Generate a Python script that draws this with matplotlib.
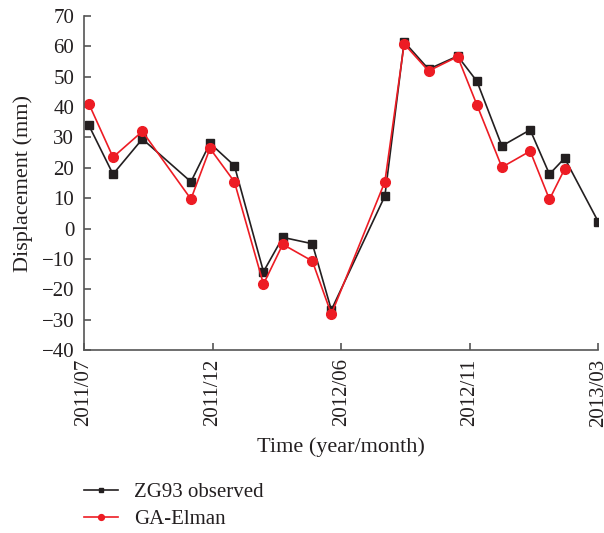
import matplotlib
matplotlib.use("Agg")
import matplotlib.pyplot as plt

# months since 2011/07
obs_months = [0.19, 1.13, 2.27, 4.16, 4.90, 5.85, 6.98, 7.73, 8.88, 9.62,
              11.70, 12.45, 13.40, 14.53, 15.28, 16.25, 17.35, 18.10, 18.69, 20.0]
obs_disp = [34.0, 17.9, 29.5, 15.4, 28.1, 20.7, -14.2, -2.9, -5.0, -26.8,
            10.7, 61.5, 52.5, 56.8, 48.5, 27.2, 32.5, 17.9, 23.2, 2.2]

ga_months = obs_months[:19]
ga_disp = [41.1, 23.5, 32.0, 9.7, 26.4, 15.4, -18.3, -5.2, -10.7, -28.2,
           15.4, 60.8, 51.9, 56.6, 40.7, 20.2, 25.5, 9.6, 19.6]

tick_pos = [0, 5, 10, 15, 20]
tick_labels = ["2011/07", "2011/12", "2012/06", "2012/11", "2013/03"]

plt.rcParams['font.family'] = ['Liberation Serif', 'DejaVu Serif']
plt.rcParams['axes.unicode_minus'] = True

fig = plt.figure(figsize=(6.04, 5.33), dpi=100)
ax = fig.add_axes([0.139, 0.3433, 0.8516, 0.6267])

black = '#231f20'
red = '#ed1c24'

ax.plot(obs_months, obs_disp, '-s', color=black, lw=1.2, ms=6,
        label='ZG93 observed')
ax.plot(ga_months, ga_disp, '-o', color=red, lw=1.2, ms=7,
        label='GA-Elman')

ax.set_xlim(0, 20)
ax.set_ylim(-40, 70)
ax.set_yticks(range(-40, 71, 10))
ax.set_xticks(tick_pos)
ax.set_xticklabels(tick_labels, rotation=90)

for s in ['top', 'right']:
    ax.spines[s].set_visible(False)
for s in ['left', 'bottom']:
    ax.spines[s].set_color('#555555')
    ax.spines[s].set_linewidth(1.2)
ax.tick_params(direction='in', length=5, width=1.2, color='#555555',
               labelsize=15, labelcolor=black)
ax.tick_params(axis='y', pad=7)
ax.tick_params(axis='x', pad=6)

ax.set_ylabel('Displacement (mm)', fontsize=16, color=black, labelpad=6)
ax.set_xlabel('Time (year/month)', fontsize=16, color=black, labelpad=8)

handles, labels = ax.get_legend_handles_labels()
leg = fig.legend(handles, labels, loc='upper left',
                 bbox_to_anchor=(0.139, 0.095), frameon=False, fontsize=15,
                 borderaxespad=0, borderpad=0,
                 handlelength=1.65, handletextpad=0.75, markerscale=0.6,
                 labelspacing=0.35)
for t in leg.get_texts():
    t.set_color(black)

fig.savefig('out.png', dpi=100)
